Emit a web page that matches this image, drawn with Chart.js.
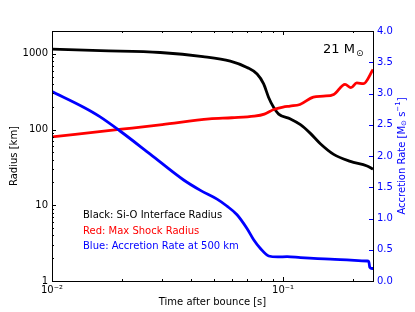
<!DOCTYPE html>
<html><head><meta charset="utf-8">
<script src="https://cdn.jsdelivr.net/npm/chart.js@4.4.1/dist/chart.umd.min.js"></script>
<style>html,body{margin:0;padding:0;background:#fff}#wrap{width:415px;height:312px}</style>
</head><body><div id="wrap"><canvas id="c" width="415" height="312"></canvas></div>
<script>
// ---- data ----
const blackTime   = [0.01, 0.0162, 0.0294, 0.045, 0.0591, 0.0698, 0.0772, 0.0824, 0.0866, 0.0911, 0.0957, 0.1076, 0.1189, 0.1313, 0.145, 0.1656, 0.1955, 0.231, 0.245];
const blackRadius = [1150, 1100, 1040, 920, 800, 660, 540, 400, 265, 195, 160, 138, 116, 89, 65, 47, 38, 33, 30];

const redTime   = [0.01, 0.02, 0.03, 0.048, 0.06, 0.075, 0.083, 0.0911, 0.1, 0.1072, 0.1183, 0.1352, 0.1495, 0.1656, 0.1854, 0.1965, 0.2084, 0.2227, 0.245];
const redRadius = [80, 101, 116, 138, 143, 150, 160, 184, 198, 204, 214, 268, 276, 291, 395, 357, 413, 403, 620];

const blueTime = [0.01, 0.0137, 0.0161, 0.0197, 0.0266, 0.037, 0.0439, 0.0518, 0.0571, 0.0632, 0.0698, 0.0746, 0.0798, 0.0866, 0.095, 0.104, 0.119, 0.16, 0.231, 0.235, 0.2372, 0.243, 0.245];
const blueRate = [3.03, 2.78, 2.63, 2.40, 2.03, 1.62, 1.45, 1.31, 1.20, 1.06, 0.84, 0.66, 0.52, 0.40, 0.385, 0.39, 0.375, 0.35, 0.32, 0.31, 0.22, 0.20, 0.20];

const xMajorTicks = [0.01, 0.1];
const xTickLabels = ['10\u207B\u00B2', '10\u207B\u00B9'];
const yLeftTicks = [1, 10, 100, 1000];
const yLeftLabels = ['1', '10', '100', '1000'];
const yRightTicks = [0, 0.5, 1, 1.5, 2, 2.5, 3, 3.5, 4];
const legendLines = ['Black: Si-O Interface Radius', 'Red: Max Shock Radius', 'Blue: Accretion Rate at 500 km'];
const legendColors = ['#000000', '#ff0000', '#0000ff'];

const FONT = '"DejaVu Sans", sans-serif';
Chart.defaults.font.family = FONT;
Chart.defaults.font.size = 10;
Chart.defaults.color = '#000';

const pts = (xs, ys) => xs.map((t, i) => ({x: t, y: ys[i]}));

const deco = {
  id: 'deco',
  afterDraw(chart) {
    const {ctx, chartArea: a, scales} = chart;
    const sx = scales.x, sy = scales.y, sr = scales.y1;
    const L = Math.round(a.left), R = Math.round(a.right), T = Math.round(a.top), B = Math.round(a.bottom);
    ctx.save();
    ctx.lineWidth = 1;
    ctx.strokeStyle = '#000';
    const line = (x0, y0, x1, y1) => { ctx.beginPath(); ctx.moveTo(x0, y0); ctx.lineTo(x1, y1); ctx.stroke(); };
    // x ticks (bottom & top, inside)
    [0.01, 0.1].forEach(d => {
      for (let k = 1; k <= 9; k++) {
        const v = k * d;
        if (v > sx.max + 1e-9) break;
        const px = Math.round(sx.getPixelForValue(v)) + 0.5;
        const len = k === 1 ? 4 : 2;
        line(px, B, px, B - len);
        line(px, T, px, T + len);
      }
    });
    // left y ticks
    [1, 10, 100, 1000].forEach(d => {
      for (let k = 1; k <= 9; k++) {
        const v = k * d;
        if (v > sy.max + 1e-9) break;
        const py = Math.round(sy.getPixelForValue(v)) + 0.5;
        const len = k === 1 ? 4 : 2;
        line(L, py, L + len, py);
      }
    });
    // right y ticks (blue)
    ctx.strokeStyle = '#0000ff';
    yRightTicks.forEach(v => {
      const py = Math.round(sr.getPixelForValue(v)) + 0.5;
      line(R, py, R - 4, py);
    });
    // frame
    ctx.strokeStyle = '#000';
    ctx.strokeRect(L + 0.5, T + 0.5, R - L, B - T);

    // legend text inside plot
    ctx.font = '10px ' + FONT;
    ctx.textBaseline = 'alphabetic';
    ctx.textAlign = 'left';
    legendLines.forEach((s, i) => {
      ctx.fillStyle = legendColors[i];
      ctx.fillText(s, 83, 218 + i * 15.5);
    });

    // 21 M_sun
    ctx.fillStyle = '#000';
    ctx.font = '13px ' + FONT;
    const t1 = '21 M';
    ctx.fillText(t1, 323, 53);
    const w1 = ctx.measureText(t1).width;
    ctx.font = '9px ' + FONT;
    ctx.fillText('\u2299', 323 + w1 + 1, 56);

    // right axis title (rotated, bottom-to-top)
    ctx.save();
    ctx.translate(402, 156);
    ctx.rotate(-Math.PI / 2);
    ctx.fillStyle = '#0000ff';
    ctx.textBaseline = 'middle';
    const parts = [
      {t: 'Accretion Rate [M', f: 10, dy: 0},
      {t: '\u2299', f: 7, dy: 2.5},
      {t: ' s', f: 10, dy: 0},
      {t: '\u22121', f: 7, dy: -3.5},
      {t: ']', f: 10, dy: 0}
    ];
    let W = 0;
    parts.forEach(p => { ctx.font = p.f + 'px ' + FONT; p.w = ctx.measureText(p.t).width; W += p.w; });
    let cx = -W / 2;
    parts.forEach(p => { ctx.font = p.f + 'px ' + FONT; ctx.fillText(p.t, cx, p.dy); cx += p.w; });
    ctx.restore();
    ctx.restore();
  }
};

new Chart(document.getElementById('c').getContext('2d'), {
  type: 'line',
  data: {
    datasets: [
      {label: 'Si-O Interface Radius', data: pts(blackTime, blackRadius), borderColor: '#000000', yAxisID: 'y', order: 2},
      {label: 'Max Shock Radius', data: pts(redTime, redRadius), borderColor: '#ff0000', yAxisID: 'y', order: 1},
      {label: 'Accretion Rate at 500 km', data: pts(blueTime, blueRate), borderColor: '#0000ff', yAxisID: 'y1', order: 0}
    ]
  },
  options: {
    responsive: false,
    animation: false,
    devicePixelRatio: 1,
    layout: {padding: {top: 31, left: 0, right: 0, bottom: 0}},
    elements: {
      point: {radius: 0},
      line: {borderWidth: 2.8, cubicInterpolationMode: 'monotone', fill: false}
    },
    plugins: {legend: {display: false}, tooltip: {enabled: false}, title: {display: false}},
    scales: {
      x: {
        type: 'logarithmic', position: 'bottom', min: 0.01, max: 0.245,
        grid: {display: false, drawTicks: false}, border: {display: false},
        afterBuildTicks(s) { s.ticks = xMajorTicks.map(v => ({value: v})); },
        ticks: {callback: (v, i) => xTickLabels[i], padding: 3, color: '#000', maxRotation: 0, autoSkip: false, font: {size: 10}},
        title: {display: true, text: 'Time after bounce [s]', color: '#000', font: {size: 10}, padding: {top: 0, bottom: 4}},
        afterFit(s) { s.height = 31; }
      },
      y: {
        type: 'logarithmic', position: 'left', min: 1, max: 2000,
        grid: {display: false, drawTicks: false}, border: {display: false},
        afterBuildTicks(s) { s.ticks = yLeftTicks.map(v => ({value: v})); },
        ticks: {callback: (v, i) => yLeftLabels[i], padding: 4, color: '#000', autoSkip: false, font: {size: 10}},
        title: {display: true, text: 'Radius [km]', color: '#000', font: {size: 10}, padding: {top: 8, bottom: 0}},
        afterFit(s) { s.width = 52; }
      },
      y1: {
        type: 'linear', position: 'right', min: 0, max: 4,
        grid: {display: false, drawTicks: false}, border: {display: false},
        afterBuildTicks(s) { s.ticks = yRightTicks.map(v => ({value: v})); },
        ticks: {callback: v => Number(v).toFixed(1), padding: 4, color: '#0000ff', autoSkip: false, font: {size: 10}},
        title: {display: false},
        afterFit(s) { s.width = 42; }
      }
    }
  },
  plugins: [deco]
});
</script>
</body></html>
